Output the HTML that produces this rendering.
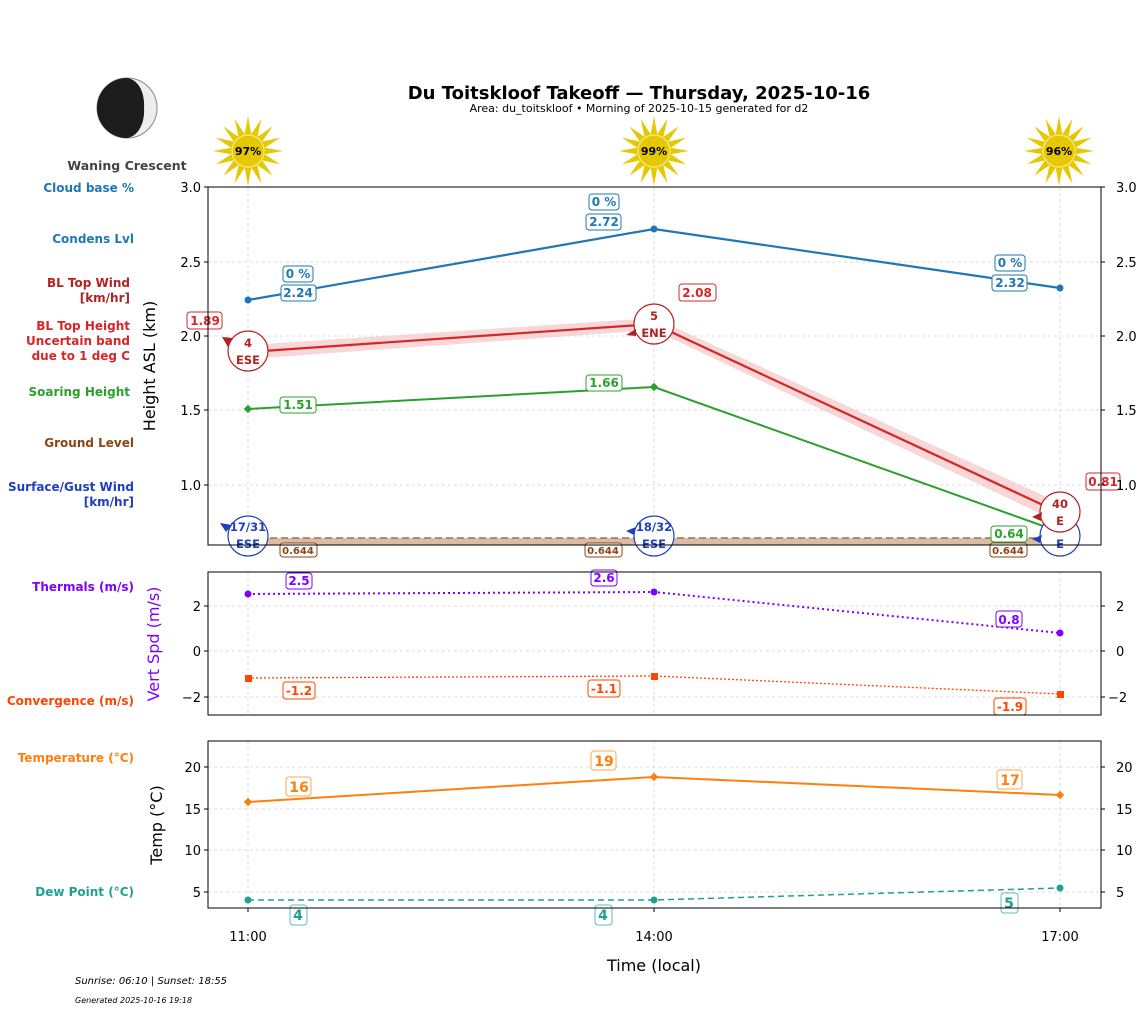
<!DOCTYPE html>
<html><head><meta charset="utf-8"><style>
body{margin:0;background:#fff}
svg{display:block;font-family:"DejaVu Sans","Liberation Sans",sans-serif}
.b{font-weight:bold}
</style></head><body>
<svg width="1147" height="1011" viewBox="0 0 1147 1011" xmlns="http://www.w3.org/2000/svg">
<defs>
<polygon id="star" points="35,0 16.7,3.3 32.3,13.4 14.1,9.4 24.7,24.7 9.4,14.1 13.4,32.3 3.3,16.7 0,35 -3.3,16.7 -13.4,32.3 -9.4,14.1 -24.7,24.7 -14.1,9.4 -32.3,13.4 -16.7,3.3 -35,0 -16.7,-3.3 -32.3,-13.4 -14.1,-9.4 -24.7,-24.7 -9.4,-14.1 -13.4,-32.3 -3.3,-16.7 0,-35 3.3,-16.7 13.4,-32.3 9.4,-14.1 24.7,-24.7 14.1,-9.4 32.3,-13.4 16.7,-3.3" fill="#e6c800"/>
</defs>
<text x="639" y="99" text-anchor="middle" font-size="18" class="b">Du Toitskloof Takeoff — Thursday, 2025-10-16</text>
<text x="639" y="112" text-anchor="middle" font-size="11">Area: du_toitskloof • Morning of 2025-10-15 generated for d2</text>
<circle cx="127" cy="108" r="30" fill="#eeeeee" stroke="#888" stroke-width="1"/>
<path d="M127,78 A30,30 0 0 0 127,138 C140,136 145,120 144,108 C145,95 140,80 127,78 Z" fill="#1c1c1c"/>
<text x="127" y="170" text-anchor="middle" font-size="12.5" class="b" fill="#444">Waning Crescent</text>
<g transform="translate(248,151)"><use href="#star"/><circle r="16" fill="#e6c800" stroke="#f3e27a" stroke-width="1.5"/><text y="4" text-anchor="middle" font-size="11" class="b">97%</text></g>
<g transform="translate(654,151)"><use href="#star"/><circle r="16" fill="#e6c800" stroke="#f3e27a" stroke-width="1.5"/><text y="4" text-anchor="middle" font-size="11" class="b">99%</text></g>
<g transform="translate(1059,151)"><use href="#star"/><circle r="16" fill="#e6c800" stroke="#f3e27a" stroke-width="1.5"/><text y="4" text-anchor="middle" font-size="11" class="b">96%</text></g>
<g font-size="12" class="b" text-anchor="end">
<text x="134" y="192" fill="#1f77b4">Cloud base %</text>
<text x="134" y="243" fill="#1f77b4">Condens Lvl</text>
<text x="130" y="287" fill="#b22222">BL Top Wind</text>
<text x="130" y="302" fill="#b22222">[km/hr]</text>
<text x="130" y="330" fill="#d62728">BL Top Height</text>
<text x="130" y="345" fill="#d62728">Uncertain band</text>
<text x="130" y="360" fill="#d62728">due to 1 deg C</text>
<text x="130" y="396" fill="#2ca02c">Soaring Height</text>
<text x="134" y="447" fill="#8b4513">Ground Level</text>
<text x="134" y="491" fill="#1f3fbf">Surface/Gust Wind</text>
<text x="134" y="506" fill="#1f3fbf">[km/hr]</text>
<text x="134" y="591" fill="#7f00ff">Thermals (m/s)</text>
<text x="134" y="705" fill="#ff4500">Convergence (m/s)</text>
<text x="134" y="762" fill="#ff7f0e">Temperature (°C)</text>
<text x="134" y="896" fill="#20a090">Dew Point (°C)</text>
</g>
<g stroke="#d0d0d0" stroke-dasharray="3,3" stroke-width="0.8">
<line x1="248" y1="187" x2="248" y2="545"/><line x1="654" y1="187" x2="654" y2="545"/><line x1="1060" y1="187" x2="1060" y2="545"/>
<line x1="208" y1="262" x2="1101" y2="262"/><line x1="208" y1="336" x2="1101" y2="336"/><line x1="208" y1="410" x2="1101" y2="410"/><line x1="208" y1="485" x2="1101" y2="485"/>
<line x1="248" y1="572" x2="248" y2="715"/><line x1="654" y1="572" x2="654" y2="715"/><line x1="1060" y1="572" x2="1060" y2="715"/>
<line x1="208" y1="606" x2="1101" y2="606"/><line x1="208" y1="651" x2="1101" y2="651"/><line x1="208" y1="697" x2="1101" y2="697"/>
<line x1="248" y1="741" x2="248" y2="908"/><line x1="654" y1="741" x2="654" y2="908"/><line x1="1060" y1="741" x2="1060" y2="908"/>
<line x1="208" y1="767" x2="1101" y2="767"/><line x1="208" y1="809" x2="1101" y2="809"/><line x1="208" y1="850" x2="1101" y2="850"/><line x1="208" y1="892" x2="1101" y2="892"/>
</g>
<rect x="248" y="538" width="812" height="7" fill="#d9bca8"/>
<line x1="248" y1="538" x2="1060" y2="538" stroke="#a0704a" stroke-width="1.5" stroke-dasharray="7,4"/>
<polygon points="248,345 654,318 1060,503 1060,523 654,330 248,359" fill="#f4c6c6" opacity="0.7"/>
<polyline points="248,300 654,229 1060,288" fill="none" stroke="#1f77b4" stroke-width="2.2"/>
<g fill="#1f77b4"><circle cx="248" cy="300" r="3.5"/><circle cx="654" cy="229" r="3.5"/><circle cx="1060" cy="288" r="3.5"/></g>
<polyline points="248,352 654,324 1060,513" fill="none" stroke="#d62728" stroke-width="2.2"/>
<polyline points="248,409 654,387 1060,532" fill="none" stroke="#2ca02c" stroke-width="2"/>
<g fill="#2ca02c"><rect x="245" y="406" width="6" height="6" transform="rotate(45 248 409)"/><rect x="651" y="384" width="6" height="6" transform="rotate(45 654 387)"/></g>
<g font-size="11.5" class="b" text-anchor="middle">
<g fill="#fff" stroke="#1f3fbf" stroke-width="1.2"><circle cx="248" cy="536" r="20"/><circle cx="654" cy="536" r="20"/><circle cx="1060" cy="536" r="20"/></g>
<g fill="#1f3fbf"><text x="248" y="531">17/31</text><text x="248" y="548">ESE</text><text x="654" y="531">18/32</text><text x="654" y="548">ESE</text><text x="1060" y="548">E</text>
<polygon points="220,523 232,525 226,532"/><polygon points="626,531 636,527 634,535"/><polygon points="1032,539 1042,535 1040,543"/></g>
<g fill="#fff" stroke="#b22222" stroke-width="1.2"><circle cx="248" cy="351" r="20"/><circle cx="654" cy="324" r="20"/><circle cx="1060" cy="512" r="20"/></g>
<g fill="#b22222"><text x="248" y="347">4</text><text x="248" y="364">ESE</text><text x="654" y="320">5</text><text x="654" y="337">ENE</text><text x="1060" y="508">40</text><text x="1060" y="525">E</text>
<polygon points="222,337 233,338 228,347"/><polygon points="626,335 636,329 636,336"/><polygon points="1032,517 1042,512 1041,521"/></g>
</g>
<g font-size="12" class="b" text-anchor="middle">
<g fill="#fff" stroke="#1f77b4"><rect x="283" y="266" width="30" height="16" rx="3"/><rect x="281" y="285" width="35" height="16" rx="3"/><rect x="589" y="194" width="30" height="16" rx="3"/><rect x="586" y="214" width="35" height="16" rx="3"/><rect x="995" y="255" width="30" height="16" rx="3"/><rect x="992" y="275" width="35" height="16" rx="3"/></g>
<g fill="#1f77b4"><text x="298" y="278">0 %</text><text x="298" y="297">2.24</text><text x="604" y="206">0 %</text><text x="604" y="226">2.72</text><text x="1010" y="267">0 %</text><text x="1010" y="287">2.32</text></g>
<g fill="#fff" stroke="#d62728"><rect x="187" y="312" width="35" height="17" rx="3"/><rect x="679" y="284" width="37" height="17" rx="3"/><rect x="1086" y="473" width="34" height="17" rx="3"/></g>
<g fill="#d62728"><text x="205" y="325">1.89</text><text x="697" y="297">2.08</text><text x="1103" y="486">0.81</text></g>
<g fill="#fff" stroke="#2ca02c"><rect x="280" y="397" width="36" height="16" rx="3"/><rect x="586" y="375" width="36" height="16" rx="3"/><rect x="991" y="526" width="36" height="16" rx="3"/></g>
<g fill="#2ca02c"><text x="298" y="409">1.51</text><text x="604" y="387">1.66</text><text x="1009" y="538">0.64</text></g>
<g font-size="10" fill="#fff" stroke="#8b4513"><rect x="280" y="543" width="37" height="14" rx="3"/><rect x="585" y="543" width="37" height="14" rx="3"/><rect x="990" y="543" width="37" height="14" rx="3"/></g>
<g font-size="10" fill="#8b4513"><text x="298" y="554">0.644</text><text x="603" y="554">0.644</text><text x="1008" y="554">0.644</text></g>
</g>
<polyline points="248,594 654,592 1060,633" fill="none" stroke="#7f00ff" stroke-width="2" stroke-dasharray="2,3"/>
<g fill="#7f00ff"><circle cx="248" cy="594" r="3.5"/><circle cx="654" cy="592" r="3.5"/><circle cx="1060" cy="633" r="3.5"/></g>
<polyline points="248,678 654,676 1060,694" fill="none" stroke="#ff4500" stroke-width="1.3" stroke-dasharray="2,2"/>
<g fill="#ff4500"><rect x="245" y="675" width="7" height="7"/><rect x="651" y="673" width="7" height="7"/><rect x="1057" y="691" width="7" height="7"/></g>
<g font-size="12" class="b" text-anchor="middle">
<g fill="#fff" stroke="#7f00ff"><rect x="286" y="573" width="26" height="16" rx="3"/><rect x="591" y="570" width="26" height="16" rx="3"/><rect x="996" y="611" width="26" height="16" rx="3"/></g>
<g fill="#7f00ff"><text x="299" y="585">2.5</text><text x="604" y="582">2.6</text><text x="1009" y="624">0.8</text></g>
<g fill="#fff" stroke="#ff4500"><rect x="283" y="682" width="32" height="17" rx="3"/><rect x="588" y="680" width="32" height="17" rx="3"/><rect x="994" y="698" width="32" height="17" rx="3"/></g>
<g fill="#ff4500"><text x="299" y="695">-1.2</text><text x="604" y="693">-1.1</text><text x="1010" y="711">-1.9</text></g>
</g>
<polyline points="248,802 654,777 1060,795" fill="none" stroke="#ff7f0e" stroke-width="2"/>
<g fill="#ff7f0e"><rect x="245" y="799" width="6" height="6" transform="rotate(45 248 802)"/><rect x="651" y="774" width="6" height="6" transform="rotate(45 654 777)"/><rect x="1057" y="792" width="6" height="6" transform="rotate(45 1060 795)"/></g>
<polyline points="248,900 654,900 1060,888" fill="none" stroke="#20a090" stroke-width="1.5" stroke-dasharray="6,4"/>
<g fill="#20a090"><circle cx="248" cy="900" r="3.5"/><circle cx="654" cy="900" r="3.5"/><circle cx="1060" cy="888" r="3.5"/></g>
<g font-size="14" class="b" text-anchor="middle">
<g fill="#fff" stroke="#ff7f0e" stroke-opacity="0.7"><rect x="286" y="777" width="25" height="19" rx="3"/><rect x="591" y="751" width="25" height="19" rx="3"/><rect x="997" y="770" width="25" height="19" rx="3"/></g>
<g fill="#ff7f0e"><text x="299" y="792">16</text><text x="604" y="766">19</text><text x="1010" y="785">17</text></g>
<g fill="#fff" stroke="#20a090" stroke-opacity="0.7"><rect x="290" y="905" width="17" height="20" rx="3"/><rect x="595" y="905" width="17" height="20" rx="3"/><rect x="1001" y="893" width="17" height="20" rx="3"/></g>
<g fill="#20a090"><text x="298" y="920">4</text><text x="603" y="920">4</text><text x="1009" y="908">5</text></g>
</g>
<g fill="none" stroke="#000" stroke-width="1"><rect x="208" y="187" width="893" height="358"/><rect x="208" y="572" width="893" height="143"/><rect x="208" y="741" width="893" height="167"/></g>
<g stroke="#000"><line x1="204" y1="187" x2="208" y2="187"/><line x1="204" y1="262" x2="208" y2="262"/><line x1="204" y1="336" x2="208" y2="336"/><line x1="204" y1="410" x2="208" y2="410"/><line x1="204" y1="485" x2="208" y2="485"/>
<line x1="1101" y1="187" x2="1105" y2="187"/><line x1="1101" y1="262" x2="1105" y2="262"/><line x1="1101" y1="336" x2="1105" y2="336"/><line x1="1101" y1="410" x2="1105" y2="410"/><line x1="1101" y1="485" x2="1105" y2="485"/>
<line x1="204" y1="606" x2="208" y2="606"/><line x1="204" y1="651" x2="208" y2="651"/><line x1="204" y1="697" x2="208" y2="697"/><line x1="1101" y1="606" x2="1105" y2="606"/><line x1="1101" y1="651" x2="1105" y2="651"/><line x1="1101" y1="697" x2="1105" y2="697"/>
<line x1="204" y1="767" x2="208" y2="767"/><line x1="204" y1="809" x2="208" y2="809"/><line x1="204" y1="850" x2="208" y2="850"/><line x1="204" y1="892" x2="208" y2="892"/><line x1="1101" y1="767" x2="1105" y2="767"/><line x1="1101" y1="809" x2="1105" y2="809"/><line x1="1101" y1="850" x2="1105" y2="850"/><line x1="1101" y1="892" x2="1105" y2="892"/>
<line x1="248" y1="908" x2="248" y2="912"/><line x1="654" y1="908" x2="654" y2="912"/><line x1="1060" y1="908" x2="1060" y2="912"/></g>
<g font-size="13" fill="#000">
<g text-anchor="end"><text x="201" y="192">3.0</text><text x="201" y="267">2.5</text><text x="201" y="341">2.0</text><text x="201" y="415">1.5</text><text x="201" y="490">1.0</text>
<text x="201" y="611">2</text><text x="201" y="656">0</text><text x="201" y="702">−2</text>
<text x="201" y="772">20</text><text x="201" y="814">15</text><text x="201" y="855">10</text><text x="201" y="897">5</text></g>
<text x="1116" y="192">3.0</text><text x="1116" y="267">2.5</text><text x="1116" y="341">2.0</text><text x="1116" y="415">1.5</text><text x="1116" y="490">1.0</text>
<text x="1116" y="611">2</text><text x="1116" y="656">0</text><text x="1108" y="702">−2</text>
<text x="1116" y="772">20</text><text x="1116" y="814">15</text><text x="1116" y="855">10</text><text x="1116" y="897">5</text>
<g text-anchor="middle"><text x="248" y="941">11:00</text><text x="654" y="941">14:00</text><text x="1060" y="941">17:00</text></g>
</g>
<text x="654" y="971" text-anchor="middle" font-size="16">Time (local)</text>
<text transform="translate(155,366) rotate(-90)" text-anchor="middle" font-size="16">Height ASL (km)</text>
<text transform="translate(159,644) rotate(-90)" text-anchor="middle" font-size="16" fill="#7f00ff">Vert Spd (m/s)</text>
<text transform="translate(162,825) rotate(-90)" text-anchor="middle" font-size="16">Temp (°C)</text>
<text x="75" y="984" font-size="10" font-style="italic">Sunrise: 06:10 | Sunset: 18:55</text>
<text x="75" y="1003" font-size="8" font-style="italic">Generated 2025-10-16 19:18</text>
</svg>
</body></html>
